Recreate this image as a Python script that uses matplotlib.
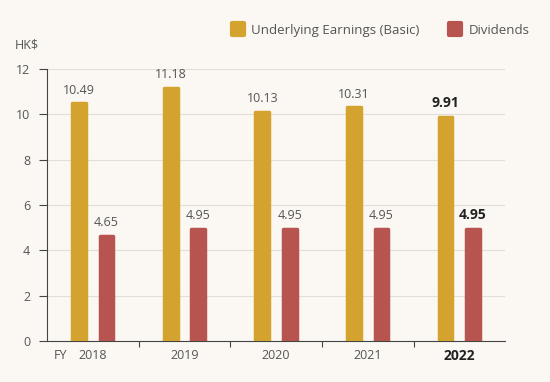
import matplotlib.pyplot as plt
import numpy as np
from matplotlib.lines import Line2D
from matplotlib.markers import MarkerStyle

plt.rcParams['font.family'] = ['Open Sans', 'DejaVu Sans']

years = ['2018', '2019', '2020', '2021', '2022']
earnings = [10.49, 11.18, 10.13, 10.31, 9.91]
dividends = [4.65, 4.95, 4.95, 4.95, 4.95]

gold = '#D4A22E'
red = '#B85450'
txt = '#555555'
bg = '#FBF8F3'

fig = plt.figure(figsize=(5.5, 3.82), dpi=100, facecolor=bg)
ax = fig.add_axes([0.0855, 0.107, 0.833, 0.712], facecolor=bg)

x = np.arange(len(years))
w = 0.15
off = 0.15

# barras con esquinas redondeadas
ax.bar(x - off, earnings, w, color=gold, edgecolor=gold, lw=2.5, joinstyle='round', zorder=3)
ax.bar(x + off, dividends, w, color=red, edgecolor=red, lw=2.5, joinstyle='round', zorder=3)

for i in range(len(years)):
    last = i == len(years) - 1
    fw = 'bold' if last else 'normal'
    col = '#222222' if last else txt
    fs = 10 if last else 9
    ax.text(x[i] - off, earnings[i] + 0.3, f'{earnings[i]:.2f}', ha='center', va='bottom',
            fontsize=fs, color=col, fontweight=fw)
    ax.text(x[i] + off, dividends[i] + 0.3, f'{dividends[i]:.2f}', ha='center', va='bottom',
            fontsize=fs, color=col, fontweight=fw)

ax.set_xlim(-0.5, len(years) - 0.5)
ax.set_ylim(0, 12)
ax.set_yticks(range(0, 13, 2))
ax.tick_params(axis='y', labelsize=9, labelcolor=txt, color='#444444', length=6, width=0.8, pad=6)
ax.grid(axis='y', color='#E2DED8', lw=0.8, zorder=0)

ax.set_xticks(np.arange(0.5, len(years) - 0.5, 1))
ax.set_xticklabels([])
ax.tick_params(axis='x', color='#444444', length=4, width=0.8)
for i, y in enumerate(years):
    last = i == len(years) - 1
    ax.text(x[i], -0.35, y, ha='center', va='top', fontsize=10 if last else 9,
            color='#222222' if last else txt, fontweight='bold' if last else 'normal')
ax.text(-0.43, -0.35, 'FY', ha='left', va='top', fontsize=9, color=txt)

for s in ['top', 'right']:
    ax.spines[s].set_visible(False)
for s in ['left', 'bottom']:
    ax.spines[s].set_color('#444444')
    ax.spines[s].set_linewidth(0.8)
ax.spines['left'].set_bounds(0, 12)

fig.text(15 / 550, 1 - 45 / 382, 'HK$', fontsize=9, color=txt, va='center', ha='left')

def handle(c):
    return Line2D([], [], ls='none', marker=MarkerStyle('s', joinstyle='round'),
                  markersize=9, markerfacecolor=c, markeredgecolor=c, markeredgewidth=3)

leg = fig.legend([handle(gold), handle(red)], ['Underlying Earnings (Basic)', 'Dividends'],
                 loc='center', bbox_to_anchor=(0.692, 0.921), ncol=2, frameon=False,
                 fontsize=9.5, handlelength=1.0, columnspacing=2.2, handletextpad=0.5)
for t in leg.get_texts():
    t.set_color(txt)

fig.savefig('out.png', dpi=100, facecolor=bg)
